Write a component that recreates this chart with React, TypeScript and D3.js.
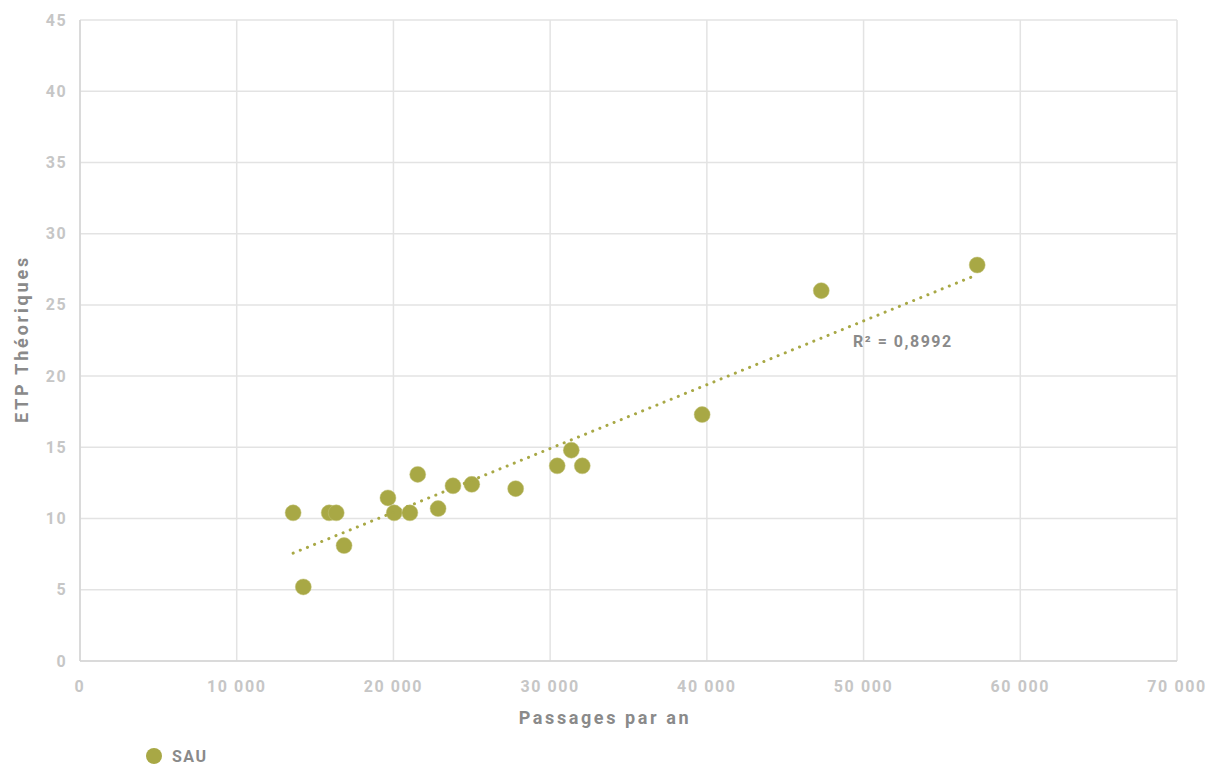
import React from "react";
import * as d3 from "d3";

const passages = [13600, 14250, 15900, 16350, 16850, 19650, 20050, 21050, 21550, 22850, 23800, 25000, 27800, 30450, 31350, 32050, 39700, 47300, 57250];
const etp = [10.4, 5.2, 10.4, 10.4, 8.1, 11.45, 10.4, 10.4, 13.1, 10.7, 12.3, 12.4, 12.1, 13.7, 14.8, 13.7, 17.3, 26.0, 27.8];
const xTicks = [0, 10000, 20000, 30000, 40000, 50000, 60000, 70000];
const yTicks = [0, 5, 10, 15, 20, 25, 30, 35, 40, 45];
const seriesName = "SAU";
const r2Label = "R² = 0,8992";

const W = 1207, H = 766;
const M = { left: 80, right: 1177, top: 20, bottom: 661 };
const color = "#a8a845";
const font = "Roboto, 'DejaVu Sans', sans-serif";

export default function App() {
  const x = d3.scaleLinear().domain([0, 70000]).range([M.left, M.right]);
  const y = d3.scaleLinear().domain([0, 45]).range([M.bottom, M.top]);
  const fmt = (v: number) => d3.format(",")(v).replace(/,/g, " ");

  const n = passages.length;
  const mx = d3.mean(passages)!;
  const my = d3.mean(etp)!;
  let sxy = 0, sxx = 0;
  for (let i = 0; i < n; i++) {
    sxy += (passages[i] - mx) * (etp[i] - my);
    sxx += (passages[i] - mx) ** 2;
  }
  const slope = sxy / sxx;
  const intercept = my - slope * mx;
  const x0 = d3.min(passages)!, x1 = d3.max(passages)!;

  return (
    <svg width={W} height={H} style={{ position: "absolute", left: 0, top: 0, background: "#fff" }}>
      {xTicks.map((t) => (
        <line key={"gx" + t} x1={x(t)} x2={x(t)} y1={M.top} y2={M.bottom} stroke="#e3e3e3" strokeWidth={1.5} />
      ))}
      {yTicks.map((t) => (
        <line key={"gy" + t} x1={M.left} x2={M.right} y1={y(t)} y2={y(t)} stroke="#e3e3e3" strokeWidth={1.5} />
      ))}
      <line x1={M.left} x2={M.left} y1={M.top} y2={M.bottom} stroke="#d4d4d4" strokeWidth={1.5} />
      <line x1={M.left} x2={M.right} y1={M.bottom} y2={M.bottom} stroke="#d4d4d4" strokeWidth={1.5} />
      {yTicks.map((t) => (
        <text key={"ty" + t} x={67} y={y(t)} dy="0.35em" textAnchor="end" fill="#c6c6c6" fontFamily={font} fontWeight={700} fontSize={16} letterSpacing={1.4}>{t}</text>
      ))}
      {xTicks.map((t) => (
        <text key={"tx" + t} x={x(t)} y={692} textAnchor="middle" fill="#c6c6c6" fontFamily={font} fontWeight={700} fontSize={16} letterSpacing={1.6}>{fmt(t)}</text>
      ))}
      <text x={605} y={724} textAnchor="middle" fill="#8a8a8a" fontFamily={font} fontWeight={700} fontSize={18} letterSpacing={2.6}>Passages par an</text>
      <text transform={`translate(28,339) rotate(-90)`} textAnchor="middle" fill="#8a8a8a" fontFamily={font} fontWeight={700} fontSize={18} letterSpacing={2.8}>ETP Théoriques</text>
      {passages.map((p, i) => (
        <circle key={"p" + i} cx={x(p)} cy={y(etp[i])} r={8} fill={color} stroke="#c2c27a" strokeWidth={0.5} />
      ))}
      <line x1={x(x0)} y1={y(intercept + slope * x0)} x2={x(x1)} y2={y(intercept + slope * x1)} stroke={color} strokeWidth={3} strokeDasharray="0.1 7.6" strokeLinecap="round" />
      <text x={853} y={347} fill="#8a8a8a" fontFamily={font} fontWeight={700} fontSize={16} letterSpacing={1.5}>{r2Label}</text>
      <circle cx={154} cy={756} r={8} fill={color} />
      <text x={172} y={762} fill="#8a8a8a" fontFamily={font} fontWeight={700} fontSize={16} letterSpacing={1.5}>{seriesName}</text>
    </svg>
  );
}
